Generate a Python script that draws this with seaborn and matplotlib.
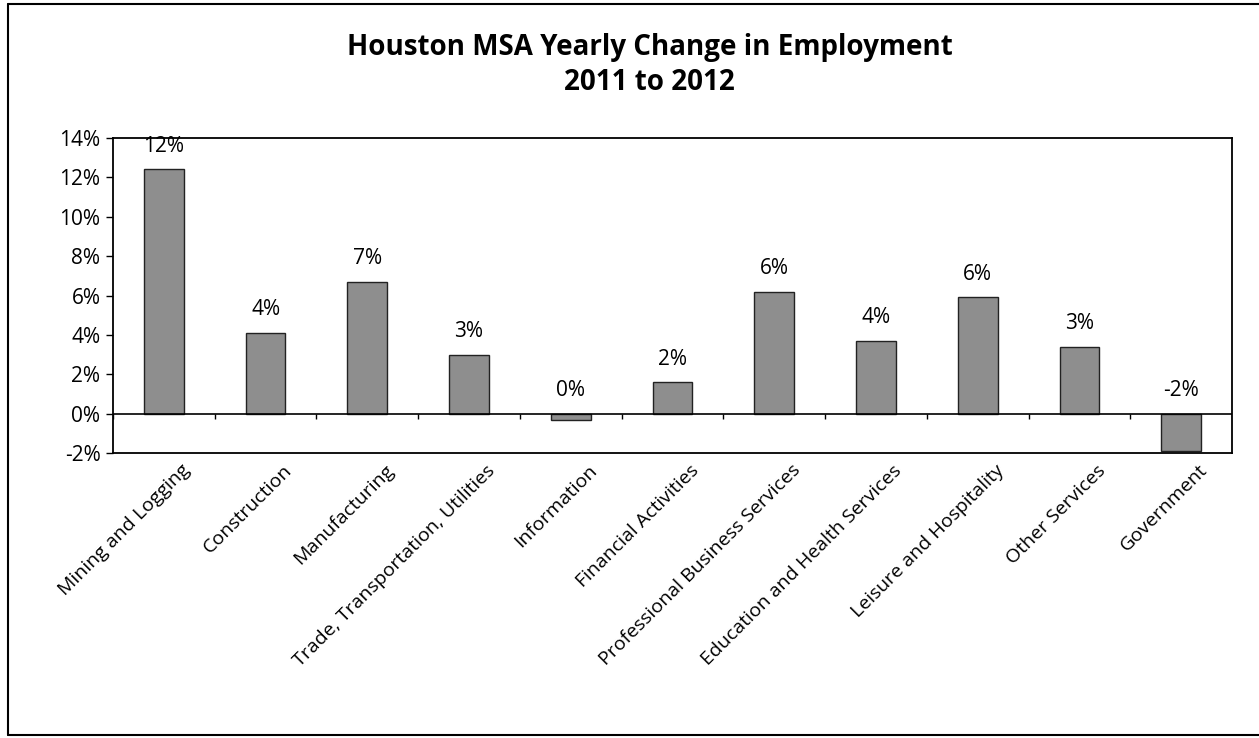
import numpy as np
import pandas as pd
import matplotlib.pyplot as plt
import matplotlib.transforms as mtransforms
from matplotlib.lines import Line2D
import seaborn as sns

# data (percent change, 2011 -> 2012)
sectors = ['Mining and Logging', 'Construction', 'Manufacturing',
           'Trade, Transportation, Utilities', 'Information', 'Financial Activities',
           'Professional Business Services', 'Education and Health Services',
           'Leisure and Hospitality', 'Other Services', 'Government']
change_pct = [12.4, 4.1, 6.7, 3.0, -0.3, 1.6, 6.2, 3.7, 5.9, 3.4, -1.9]
y_ticks = [-2, 0, 2, 4, 6, 8, 10, 12, 14]

df = pd.DataFrame({'Sector': sectors, 'Change': change_pct})

sns.set_style('white')
plt.rcParams['font.family'] = ['Open Sans', 'DejaVu Sans']
plt.rcParams['text.color'] = 'black'
plt.rcParams['xtick.color'] = 'black'
plt.rcParams['ytick.color'] = 'black'

fig = plt.figure(figsize=(12.59, 7.38), dpi=100)
ax = fig.add_axes([113 / 1259, 1 - 453 / 738, (1232 - 113) / 1259, (453 - 138) / 738])

sns.barplot(data=df, x='Sector', y='Change', ax=ax, color='#8e8e8e',
            saturation=1, width=0.39, edgecolor='#222222', linewidth=1)

ax.set_xlim(-0.5, len(sectors) - 0.5)
ax.set_ylim(y_ticks[0], y_ticks[-1])
ax.set_yticks(y_ticks)
ax.set_yticklabels([f'{t}%' for t in y_ticks], fontsize=15)
ax.tick_params(axis='y', direction='out', length=5, width=1, pad=4, left=True)
ax.set_xlabel('')
ax.set_ylabel('')

# zero line with category boundary ticks
ax.axhline(0, color='black', lw=1.2, zorder=3)
ax.vlines(np.arange(-0.5, len(sectors), 1), -0.25, 0, color='black', lw=1, zorder=3)

# rotated category labels
ax.tick_params(axis='x', length=0, pad=6)
ax.set_xticks(range(len(sectors)))
ax.set_xticklabels(sectors, rotation=45, ha='right', rotation_mode='anchor', fontsize=14)
shift = mtransforms.ScaledTranslation(17 / 100, 0, fig.dpi_scale_trans)
for lab in ax.get_xticklabels():
    lab.set_transform(lab.get_transform() + shift)

for sp in ax.spines.values():
    sp.set_color('black')
    sp.set_linewidth(1.3)

# value labels
for i, v in enumerate(change_pct):
    ax.annotate(f'{round(v):.0f}%', (i, max(v, 0)), xytext=(0, 9), textcoords='offset points',
                ha='center', va='bottom', fontsize=15)

fig.text(0.516, 1 - 48 / 738, 'Houston MSA Yearly Change in Employment', ha='center', va='center',
         fontsize=20, fontweight='bold')
fig.text(0.516, 1 - 82 / 738, '2011 to 2012', ha='center', va='center',
         fontsize=20, fontweight='bold')

# outer chart border
for xs, ys in [([8 / 1259, 8 / 1259], [1 - 4 / 738, 1 - 735 / 738]),
               ([8 / 1259, 1], [1 - 4 / 738, 1 - 4 / 738]),
               ([8 / 1259, 1], [1 - 735 / 738, 1 - 735 / 738])]:
    fig.add_artist(Line2D(xs, ys, color='black', lw=1.5))

fig.savefig('out.png', dpi=100)
